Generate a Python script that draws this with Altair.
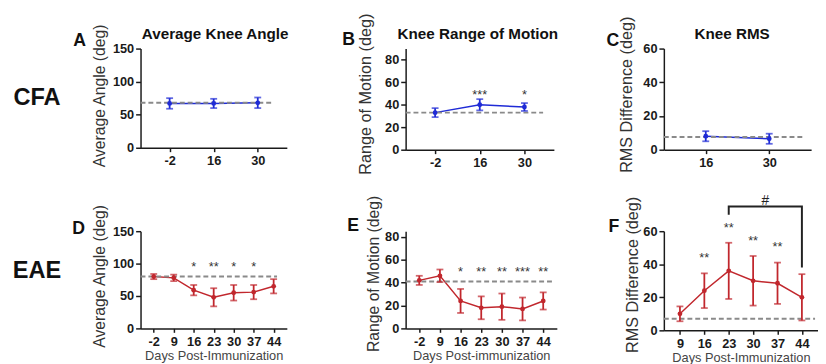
import altair as alt
import pandas as pd

FONT = "Liberation Sans"
BLUE = "#1f2bd6"
RED = "#c1272d"
INK = "#1a1a1a"
NOVIEW = alt.ViewBackground(stroke="transparent", strokeWidth=0, fill="transparent")

# ---------------- data ----------------
cfa_days = ["-2", "16", "30"]
cfa_rms_days = ["16", "30"]
eae_days = ["-2", "9", "16", "23", "30", "37", "44"]
eae_rms_days = ["9", "16", "23", "30", "37", "44"]

a_mean = [67, 67, 68]
a_err = [8, 7, 8]
a_base = 68

b_mean = [33, 40, 38]
b_err = [4, 5, 3.5]
b_base = 33
b_star_days = ["16", "30"]
b_stars = ["***", "*"]
b_star_level = 52

c_mean = [8, 6.5]
c_err = [3, 3]
c_base = 7.5

d_mean = [80, 78, 59, 48, 55, 56, 65]
d_err = [4, 5, 8, 14, 12, 11, 11]
d_base = 80
d_star_days = ["16", "23", "30", "37"]
d_stars = ["*", "**", "*", "*"]
d_star_level = 100

e_mean = [42, 46, 24, 18, 19, 17, 24]
e_err = [4, 5.5, 10.5, 10, 11.5, 10, 7.5]
e_base = 41
e_star_days = ["16", "23", "30", "37", "44"]
e_stars = ["*", "**", "**", "***", "**"]
e_star_level = 53

f_mean = [10, 24, 36, 30, 28.5, 20]
f_err = [4.5, 10.5, 17, 15, 12.5, 14]
f_base = 7
f_star_days = ["16", "23", "30", "37"]
f_stars = ["**", "**", "**", "**"]
bracket_days = ["23", "23", "44", "44"]
bracket_vals = [70, 75, 75, 38]
hash_level = 78


def text_layer(txt, x, y, size, weight="normal", color=INK, align="center", baseline="alphabetic"):
    return alt.Chart(pd.DataFrame({"t": [txt]})).mark_text(
        font=FONT, fontSize=size, fontWeight=weight, color=color, align=align, baseline=baseline
    ).encode(text="t:N", x=alt.value(x), y=alt.value(y))


def panel(days, mean, err, base, color, ymax, ticks, w, h, ytitle, ytsize, ytpad, yty,
          dash_end, letter, lx, ly, title=None, tx=0, xtitle=None,
          star_days=None, stars=None, star_y=None):
    df = pd.DataFrame({
        "day": days,
        "mean": mean,
        "lo": [m - e for m, e in zip(mean, err)],
        "hi": [m + e for m, e in zip(mean, err)],
    })
    xax = dict(labelFont=FONT, labelFontSize=13, labelFontWeight="bold", labelColor=INK,
               labelAngle=0, labelPadding=3, tickSize=4, tickColor=INK, tickWidth=1.5,
               domainColor=INK, domainWidth=1.5, grid=False,
               titleFont=FONT, titleFontSize=13, titleFontWeight="normal",
               titleColor="#444", titlePadding=2)
    xax["title"] = xtitle

    def X(field="day"):
        return alt.X(f"{field}:N",
                     scale=alt.Scale(type="point", domain=days, padding=0.66),
                     axis=alt.Axis(**xax))

    def Y(field):
        return alt.Y(f"{field}:Q", title=ytitle,
                     scale=alt.Scale(domain=[0, ymax], nice=False, zero=True),
                     axis=alt.Axis(values=ticks, labelFont=FONT, labelFontSize=13,
                                   labelFontWeight="bold", labelColor=INK, labelPadding=2,
                                   tickSize=5, tickColor=INK, tickWidth=1.5,
                                   domainColor=INK, domainWidth=1.5, grid=False,
                                   titleFont=FONT, titleFontSize=ytsize,
                                   titleFontWeight="normal", titleColor="#333",
                                   titlePadding=ytpad, titleY=yty))

    chart = alt.Chart(df)
    line = chart.mark_line(color=color, strokeWidth=1.5).encode(x=X(), y=Y("mean"))
    dash = alt.Chart(pd.DataFrame({"b": [base]})).mark_rule(
        color="#8a8a8a", strokeWidth=2, strokeDash=[5, 3]
    ).encode(y=Y("b"), x=alt.value(0), x2=alt.value(dash_end))
    bars = chart.mark_rule(color=color, strokeWidth=1.8).encode(x=X(), y=Y("lo"), y2="hi:Q")
    cap_lo = chart.mark_tick(color=color, thickness=1.8, size=7).encode(x=X(), y=Y("lo"))
    cap_hi = chart.mark_tick(color=color, thickness=1.8, size=7).encode(x=X(), y=Y("hi"))
    pts = chart.mark_point(filled=True, color=color, size=24, opacity=1).encode(x=X(), y=Y("mean"))
    layers = [line, dash, bars, cap_lo, cap_hi, pts]

    if star_days:
        sdf = pd.DataFrame({"day": star_days, "s": stars, "sy": star_y})
        layers.append(alt.Chart(sdf).mark_text(
            font=FONT, fontSize=13, color="#333", baseline="middle", dy=4
        ).encode(x=X(), y=Y("sy"), text="s:N"))

    layers.append(text_layer(letter, lx, ly, 18, "bold", "#111"))
    if title:
        layers.append(text_layer(title, tx, -10, 15.5, "bold", "#111"))
    return layers, X, Y


def finish(layers, w, h):
    return alt.layer(*layers).properties(width=w, height=h, view=NOVIEW)


def spacer(w, h, label="", lx=0, ly=0, extend_top=False):
    layers = [text_layer(label, lx, ly, 24, "bold", "#111")]
    if extend_top:
        layers.append(alt.Chart(pd.DataFrame({"k": [0]})).mark_rule(
            opacity=0, strokeWidth=0.01
        ).encode(x=alt.value(2), y=alt.value(-37.9), y2=alt.value(-30)))
    return alt.layer(*layers).properties(width=w, height=h, view=NOVIEW)


# ---------------- panels ----------------
la, _, _ = panel(cfa_days, a_mean, a_err, a_base, BLUE, 150, [0, 50, 100, 150], 149, 101,
                 "Average Angle (deg)", 16, 5, 47.7, 135, "A", -62, -3,
                 title="Average Knee Angle", tx=76)
pA = finish(la, 149, 101)

lb, _, _ = panel(cfa_days, b_mean, b_err, b_base, BLUE, 90, [0, 20, 40, 60, 80], 151, 103,
                 "Range of Motion (deg)", 16.5, 11, 46, 140, "B", -58, -4,
                 title="Knee Range of Motion", tx=73.5,
                 star_days=b_star_days, stars=b_stars,
                 star_y=[b_star_level] * len(b_star_days))
pB = finish(lb, 151, 103)

lc, _, _ = panel(cfa_rms_days, c_mean, c_err, c_base, BLUE, 60, [0, 20, 40, 60], 150, 103,
                 "RMS Difference (deg)", 16.5, 8, 46.5, 144, "C", -52, -3,
                 title="Knee RMS", tx=69.5)
pC = finish(lc, 150, 103)

ld, _, _ = panel(eae_days, d_mean, d_err, d_base, RED, 150, [0, 50, 100, 150], 149, 99,
                 "Average Angle (deg)", 16, 5, 45.5, 139, "D", -63, 3,
                 xtitle="Days Post-Immunization",
                 star_days=d_star_days, stars=d_stars,
                 star_y=[d_star_level] * len(d_star_days))
pD = finish(ld, 149, 99)

le, _, _ = panel(eae_days, e_mean, e_err, e_base, RED, 85, [0, 20, 40, 60, 80], 154, 99,
                 "Range of Motion (deg)", 16, 3, 43, 149, "E", -53.5, 0,
                 xtitle="Days Post-immunization",
                 star_days=e_star_days, stars=e_stars,
                 star_y=[e_star_level] * len(e_star_days))
pE = finish(le, 154, 99)

f_star_y = [f_mean[eae_rms_days.index(d)] + f_err[eae_rms_days.index(d)] + 11.5 for d in f_star_days]
lf, fX, fY = panel(eae_rms_days, f_mean, f_err, f_base, RED, 60, [0, 20, 40, 60], 157, 101,
                   "RMS Difference (deg)", 16.5, 2, 44, 154, "F", -51, 1,
                   xtitle="Days Post-Immunization",
                   star_days=f_star_days, stars=f_stars, star_y=f_star_y)
bracket_df = pd.DataFrame({"day": bracket_days, "v": bracket_vals, "o": list(range(len(bracket_days)))})
lf.append(alt.Chart(bracket_df).mark_line(color="#222", strokeWidth=2).encode(
    x=fX(), y=fY("v"), order="o:Q"))
lf.append(alt.Chart(pd.DataFrame({"day": ["30"], "v": [hash_level], "t": ["#"]})).mark_text(
    font=FONT, fontSize=14, color="#222", baseline="middle", dx=12.3
).encode(x=fX(), y=fY("v"), text="t:N"))
pF = finish(lf, 157, 101)

# ---------------- layout ----------------
row1 = [spacer(135, 101, "CFA", 29.5, 57, extend_top=True), pA,
        spacer(121, 1), pB, spacer(109, 1), pC]
row2 = [spacer(135, 99, "EAE", 29.5, 48), pD,
        spacer(114, 1), pE, spacer(91, 1), pF]

chart = alt.concat(*row1, *row2, columns=6, spacing={"row": 83, "column": 0},
                   bounds="flush", align="none").properties(padding=0)
chart = chart.configure_view(stroke="transparent", strokeWidth=0).configure(font=FONT)

chart.save("out.html", embed_options={"renderer": "svg", "actions": False})
